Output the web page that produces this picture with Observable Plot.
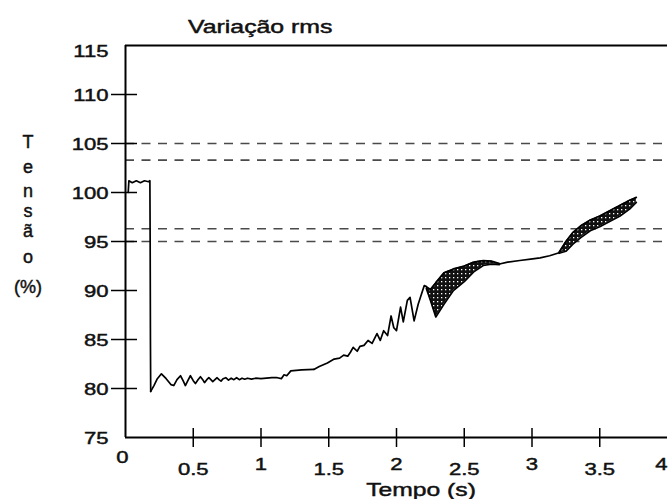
<!DOCTYPE html>
<html><head><meta charset="utf-8">
<script src="https://cdn.jsdelivr.net/npm/d3@7"></script>
<script src="https://cdn.jsdelivr.net/npm/@observablehq/plot@0.6"></script>
<style>
body{margin:0;background:#fff}
#chart{position:relative;width:668px;height:499px;overflow:hidden}
</style>
</head><body><div id="chart"></div>
<script>
// ---- texts ----
const titleText = "Variação rms";
const xLabelText = "Tempo (s)";
const yLabelChars = ["T","e","n","s","ã","o","(%)"];

// ---- ticks ----
const yTickLabels = [75, 80, 85, 90, 95, 100, 105, 110];
const yTopLabel = [115];
const yTickMarks = [80, 85, 90, 95, 100, 105, 110];
const xZeroLabel = [0];
const xIntLabels = [1, 2, 3];
const xLastLabel = [4];
const xHalfLabels = [0.5, 1.5, 2.5, 3.5];
const xTickMarks = [0.5, 1, 1.5, 2, 2.5, 3, 3.5];

// ---- limit lines (%) ----
const limitLevels = [105, 103.3, 96.3, 95];

// ---- trace: pre-fault and voltage drop ----
const faultT = [0.02, 0.025, 0.05, 0.08, 0.11, 0.14, 0.17, 0.18, 0.182, 0.184, 0.186];
const faultV = [100.0, 101.2, 101.0, 101.2, 101.0, 101.2, 101.1, 101.2, 95.0, 85.0, 79.7];

// ---- trace: sag oscillation ----
const sagT = [0.186,0.21,0.235,0.265,0.30,0.335,0.356,0.38,0.406,0.425,0.442,0.46,0.479,0.50,0.516,0.535,0.553,0.57,0.583,0.60,0.615,0.63,0.644,0.66,0.676,0.69,0.705,0.72,0.74,0.76,0.78,0.80,0.82,0.84,0.86,0.88,0.90,0.93,0.96,1.00,1.04,1.08,1.12,1.15,1.17,1.19,1.22,1.30,1.39];
const sagV = [79.7,80.3,81.0,81.5,81.0,80.4,80.3,80.9,81.3,80.8,80.3,80.8,81.3,80.8,80.5,80.9,81.2,80.9,80.6,80.9,81.1,80.9,80.7,80.9,81.1,80.9,80.75,81.0,81.1,80.85,81.05,80.9,81.1,80.9,81.05,80.95,81.05,80.95,81.05,81.0,81.05,81.1,81.1,81.0,81.4,81.3,81.8,81.9,81.95];

// ---- trace: recovery with oscillations ----
const riseT = [1.39,1.43,1.49,1.54,1.58,1.61,1.64,1.66,1.68,1.71,1.73,1.76,1.79,1.82,1.856,1.88,1.905,1.934,1.96,1.98,2.00,2.03,2.05,2.08,2.10,2.13,2.16,2.205,2.22];
const riseV = [81.95,82.25,82.6,83.0,83.1,83.4,83.3,83.7,84.2,83.8,84.3,84.4,84.9,84.6,85.6,84.9,85.9,85.4,87.4,86.2,85.9,88.3,86.8,89.0,89.3,86.9,88.6,90.5,90.4];

// ---- dense band 1 (envelope) ----
const band1T  = [2.22, 2.25, 2.29, 2.35, 2.42, 2.50, 2.57, 2.64, 2.70, 2.76];
const band1Hi = [90.4, 90.1, 90.8, 91.8, 92.2, 92.5, 92.9, 93.05, 93.0, 92.75];
const band1Lo = [90.2, 89.0, 87.3, 88.6, 90.0, 90.9, 91.9, 92.55, 92.7, 92.65];

// ---- flat section ----
const flatT = [2.76, 2.82, 2.91, 2.99, 3.06, 3.13, 3.20];
const flatV = [92.7, 92.9, 93.06, 93.2, 93.33, 93.55, 93.85];

// ---- dense band 2 (envelope) ----
const band2T  = [3.20, 3.25, 3.30, 3.36, 3.43, 3.50, 3.58, 3.65, 3.72, 3.77];
const band2Hi = [93.9, 95.0, 95.9, 96.6, 97.2, 97.6, 98.2, 98.7, 99.2, 99.5];
const band2Lo = [93.8, 94.0, 94.7, 95.4, 96.1, 96.5, 97.1, 97.6, 98.3, 99.0];

const seg = (T, V) => T.map((t, i) => ({t, v: V[i]}));
const band = (T, H, L) => T.map((t, i) => ({t, hi: H[i], lo: L[i]}));

const traces = [seg(faultT, faultV), seg(sagT, sagV), seg(riseT, riseV), seg(flatT, flatV)];
const bands = [band(band1T, band1Hi, band1Lo), band(band2T, band2Hi, band2Lo)];

const FONT = "'Liberation Sans', Arial, sans-serif";
const tickOnly = {label: null, fill: "none", stroke: "#000", strokeWidth: 1.5};
const textOnly = {label: null, tickSize: 0, fontSize: 17, fill: "#111", tickFormat: d => String(d)};

const marks = [
  Plot.ruleY(limitLevels, {y: d => d, stroke: "#4a4a4a", strokeWidth: 1.6, strokeDasharray: "9,7.5"}),
  ...bands.flatMap(b => [
    Plot.areaY(b, {x: "t", y1: "lo", y2: "hi", fill: "url(#hatch)"}),
    Plot.line(b, {x: "t", y: "hi", stroke: "#000", strokeWidth: 1.7}),
    Plot.line(b, {x: "t", y: "lo", stroke: "#000", strokeWidth: 1.7})
  ]),
  ...traces.map(d => Plot.line(d, {x: "t", y: "v", stroke: "#000", strokeWidth: 1.7})),
  Plot.ruleX([0], {stroke: "#000", strokeWidth: 2}),
  Plot.ruleY([75], {stroke: "#000", strokeWidth: 2}),
  Plot.ruleY([115], {stroke: "#000", strokeWidth: 2}),
  Plot.axisY(yTickMarks, {...tickOnly, anchor: "left", tickSize: 26, dx: 12}),
  Plot.axisY(yTickLabels, {...textOnly, anchor: "left", tickPadding: 17, dy: 1}),
  Plot.axisY(yTopLabel, {...textOnly, anchor: "left", tickPadding: 17, dy: 6}),
  Plot.axisX(xTickMarks, {...tickOnly, anchor: "bottom", tickSize: 19, dy: -9}),
  Plot.axisX(xZeroLabel, {...textOnly, anchor: "bottom", tickPadding: 13, dx: -3}),
  Plot.axisX(xIntLabels, {...textOnly, anchor: "bottom", tickPadding: 20}),
  Plot.axisX(xLastLabel, {...textOnly, anchor: "bottom", tickPadding: 20, dx: -6}),
  Plot.axisX(xHalfLabels, {...textOnly, anchor: "bottom", tickPadding: 25})
];

const chart = Plot.plot({
  width: 668,
  height: 499,
  marginLeft: 125,
  marginRight: 1,
  marginTop: 45,
  marginBottom: 62,
  style: {fontFamily: FONT, background: "#fff", color: "#111", overflow: "visible"},
  x: {domain: [0, 4]},
  y: {domain: [75, 115]},
  marks
});
document.getElementById("chart").appendChild(chart);

const svgEl = chart.tagName.toLowerCase() === "svg" ? chart : chart.querySelector("svg");
const svg = d3.select(svgEl);

// hatch pattern for the dense oscillation bands
const pat = svg.insert("defs", ":first-child").append("pattern")
  .attr("id", "hatch").attr("width", 4).attr("height", 4).attr("patternUnits", "userSpaceOnUse");
pat.append("rect").attr("width", 4).attr("height", 4).attr("fill", "#111");
pat.append("rect").attr("x", 1).attr("y", 1).attr("width", 1.3).attr("height", 1.3).attr("fill", "#fff");

// widen tick label glyphs like the reference
const SX = 1.3;
svg.selectAll('g[aria-label$="tick label"] text').each(function () {
  const tr = this.getAttribute("transform");
  if (tr) this.setAttribute("transform", tr + ` scale(${SX},1)`);
  else {
    const x = +this.getAttribute("x") || 0, y = +this.getAttribute("y") || 0;
    this.removeAttribute("x"); this.removeAttribute("y");
    this.setAttribute("transform", `translate(${x},${y}) scale(${SX},1)`);
  }
});

// title
svg.append("text").text(titleText)
  .attr("transform", "translate(188,33) scale(1.38,1)")
  .attr("text-anchor", "start")
  .attr("font-size", 18).attr("fill", "#111").attr("font-family", FONT);

// x label
svg.append("text").text(xLabelText)
  .attr("transform", "translate(421,496) scale(1.3,1)")
  .attr("text-anchor", "middle")
  .attr("font-size", 19).attr("fill", "#111").attr("font-family", FONT);

// y label, stacked letters
const yBase = [148, 173, 197, 217, 237, 263, 293];
svg.append("g").selectAll("text").data(yLabelChars).join("text")
  .text(d => d)
  .attr("x", 28).attr("y", (d, i) => yBase[i])
  .attr("text-anchor", "middle")
  .attr("font-size", 18).attr("fill", "#111").attr("font-family", FONT);

// slightly heavier glyphs, like the reference print
svg.selectAll("text").attr("stroke", "#111").attr("stroke-width", 0.45);
</script>
</body></html>
